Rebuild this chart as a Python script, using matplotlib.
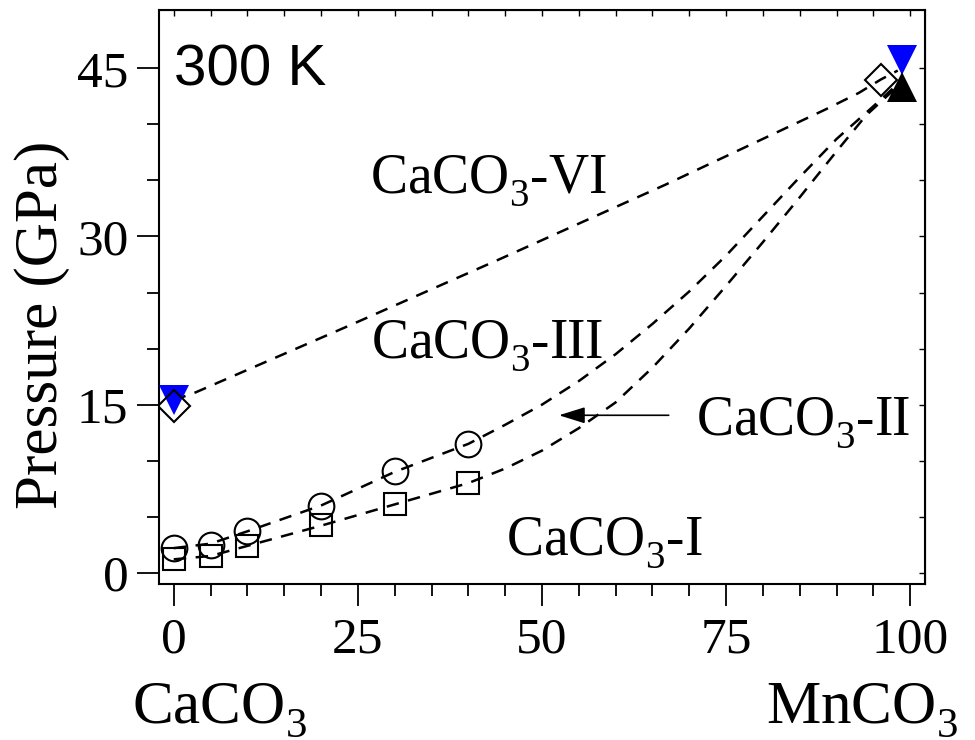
import numpy as np
import matplotlib
matplotlib.use('Agg')
import matplotlib.pyplot as plt
import matplotlib._mathtext as mtext

plt.rcParams['font.family'] = ['Liberation Serif', 'DejaVu Serif']
plt.rcParams['mathtext.fontset'] = 'custom'
plt.rcParams['mathtext.rm'] = 'Liberation Serif'
plt.rcParams['mathtext.it'] = 'Liberation Serif'
# lower the subscripts a bit, like the original figure
mtext.FontConstantsBase.sub1 = 0.5

# experimental points (x = MnCO3 content, %)
x_exp = [0, 5, 10, 20, 30, 40]
p_circle = [2.2, 2.5, 3.7, 6.0, 9.05, 11.5]
p_square = [1.27, 1.48, 2.37, 4.24, 6.11, 8.0]

x_diam = [0, 96]
p_diam = [14.85, 44.0]
x_blue = [0, 98.9]
p_blue = [15.45, 45.7]
x_black = [98.9]
p_black = [43.3]

# phase boundaries (guides to the eye)
vi_x = [0, 3, 24, 44, 66.7, 88.4, 93, 96, 98.3]
vi_y = [15.4, 16.1, 22.1, 27.9, 34.6, 41.3, 42.8, 44.0, 44.8]

iii_x = [0, 5, 10, 20, 30, 40, 45, 50, 55, 60, 65, 70, 75, 80, 85, 90, 94.8, 98.3]
iii_y = [2.2, 2.6, 3.7, 6.0, 9.0, 11.5, 13.2, 15.0, 17.1, 19.5, 22.2, 25.1, 28.3, 31.8,
         35.3, 38.7, 41.5, 43.6]

ii_x = [0, 5, 10, 20, 30, 40, 45, 50, 55, 60, 65, 70, 75, 80, 85, 90, 94, 98.3]
ii_y = [1.2, 1.5, 2.4, 4.2, 6.1, 8.0, 9.3, 10.9, 12.9, 15.2, 18.3, 21.8, 25.6, 29.5,
        33.5, 37.6, 40.8, 43.4]

xticks = [0, 25, 50, 75, 100]
yticks = [0, 15, 30, 45]

fig = plt.figure(figsize=(9.75, 7.4), dpi=100)
ax = fig.add_axes([159/975, 1-584/740, (925-159)/975, (584-10)/740])

dash = dict(color='black', lw=1.8, linestyle=(0, (5, 3.8)))
ax.plot(vi_x, vi_y, **dash, zorder=2)
ax.plot(iii_x, iii_y, **dash, zorder=2)
ax.plot(ii_x, ii_y, **dash, zorder=2)

ax.plot(x_blue, p_blue, 'v', color='blue', ms=21, mew=0, zorder=3)
ax.plot(x_black, p_black, '^', color='black', ms=21, mew=0, zorder=3)
ax.plot(x_diam, p_diam, 'D', mfc='none', mec='black', ms=16.5, mew=1.5, zorder=4)
ax.plot(x_exp, p_circle, 'o', mfc='none', mec='black', ms=18.5, mew=1.5, zorder=4)
ax.plot(x_exp, p_square, 's', mfc='none', mec='black', ms=16, mew=1.5, zorder=4)

ax.set_xlim(-2, 102)
ax.set_ylim(-1, 50.2)
ax.set_xticks(xticks)
ax.set_yticks(yticks)
ax.set_xticks(np.arange(0, 101, 5), minor=True)
ax.set_yticks(np.arange(0, 50, 5), minor=True)
ax.tick_params(which='major', direction='out', length=16, width=1.3, labelsize=37, pad=8)
ax.tick_params(which='minor', direction='out', length=8.5, width=1.3)
ax.tick_params(axis='y', which='major', pad=6)
for s in ax.spines.values():
    s.set_linewidth(1.5)

# inward ticks on top and right
sx = ax.secondary_xaxis('top')
sx.set_xticks(np.arange(0, 101, 5))
sx.tick_params(direction='in', length=4, width=1.0, labeltop=False)
sy = ax.secondary_yaxis('right')
sy.set_yticks(np.arange(0, 50, 5))
sy.tick_params(direction='in', length=4, width=1.0, labelright=False)

ax.text(0.1, 43.5, '300 K', fontsize=42, family=['Liberation Sans', 'DejaVu Sans'],
        ha='left', va='baseline')
ax.text(26.6, 33.9, 'CaCO$_3$-VI', fontsize=40, ha='left', va='baseline')
ax.text(26.8, 19.2, 'CaCO$_3$-III', fontsize=40, ha='left', va='baseline')
ax.text(70.9, 12.3, 'CaCO$_3$-II', fontsize=40, ha='left', va='baseline')
ax.text(45.1, 1.57, 'CaCO$_3$-I', fontsize=40, ha='left', va='baseline')

ax.annotate('', xy=(52.3, 14.05), xytext=(67.2, 14.05),
            arrowprops=dict(arrowstyle='-|>,head_length=0.8,head_width=0.25',
                            mutation_scale=20, color='black', lw=1.2,
                            shrinkA=0, shrinkB=0))

fig.text(132/975, 1-723/740, 'CaCO$_3$', fontsize=44, ha='left', va='baseline')
fig.text(958/975, 1-723/740, 'MnCO$_3$', fontsize=44, ha='right', va='baseline')
fig.text(42.5/975, 1-325/740, 'Pressure (GPa)', fontsize=44, rotation=90,
         ha='center', va='center')

fig.savefig('out.png', dpi=100)
